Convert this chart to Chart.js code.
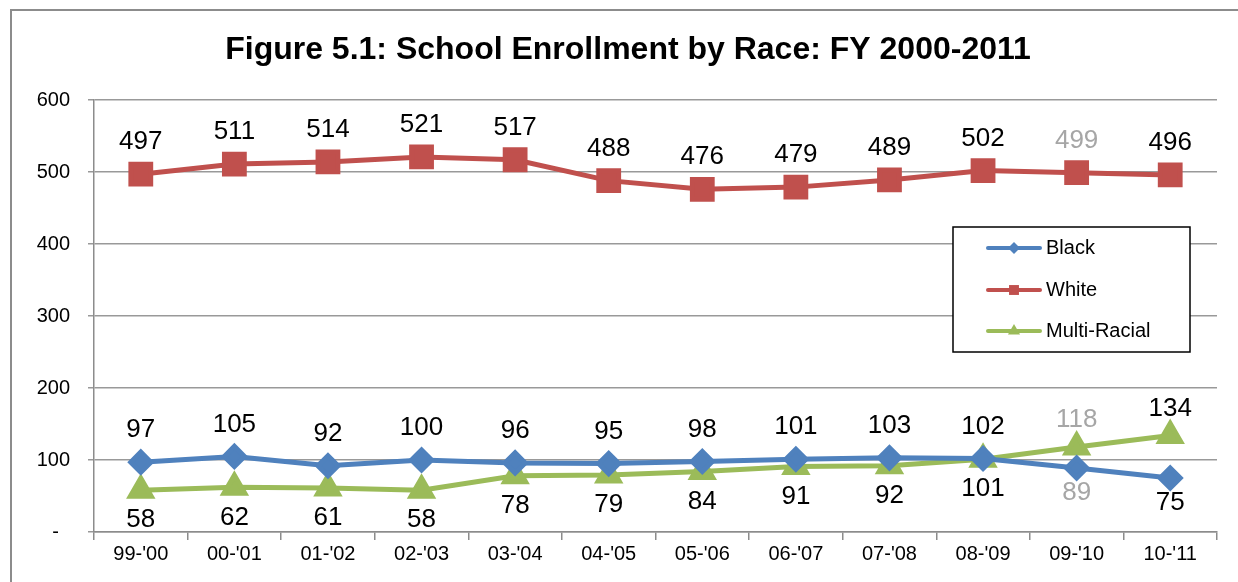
<!DOCTYPE html>
<html>
<head>
<meta charset="utf-8">
<script src="https://cdn.jsdelivr.net/npm/chart.js@4/dist/chart.umd.min.js"></script>
<style>
  html, body { margin: 0; background: #fff; }
  #wrap { width: 1238px; height: 582px; position: relative; }
</style>
</head>
<body>
<div id="wrap"><canvas id="enrollChart" width="1238" height="582"></canvas></div>
<script>
const years = ["99-'00", "00-'01", "01-'02", "02-'03", "03-'04", "04-'05", "05-'06", "06-'07", "07-'08", "08-'09", "09-'10", "10-'11"];
const black = [97, 105, 92, 100, 96, 95, 98, 101, 103, 102, 89, 75];
const white = [497, 511, 514, 521, 517, 488, 476, 479, 489, 502, 499, 496];
const multiRacial = [58, 62, 61, 58, 78, 79, 84, 91, 92, 101, 118, 134];
const yTicks = [0, 100, 200, 300, 400, 500, 600];

const FONT = 'Arial, "Liberation Sans", sans-serif';
const greyedIndex = 10; // 09-'10 labels are shown in grey

// title + outer frame
const framePlugin = {
    id: 'frame',
    beforeDraw(chart) {
        const ctx = chart.ctx;
        ctx.save();
        ctx.fillStyle = '#fff';
        ctx.fillRect(0, 0, chart.width, chart.height);
        ctx.strokeStyle = '#8c8c8c';
        ctx.lineWidth = 2;
        ctx.strokeRect(11, 10, chart.width + 20, chart.height + 20);
        ctx.restore();
    },
    afterDraw(chart) {
        const ctx = chart.ctx;
        ctx.save();
        ctx.fillStyle = '#000';
        ctx.font = 'bold 32px ' + FONT;
        ctx.textAlign = 'center';
        ctx.textBaseline = 'middle';
        ctx.fillText('Figure 5.1: School Enrollment by Race: FY 2000-2011', 628, 50);
        ctx.restore();
    }
};

// value labels above / below the points
const labelPlugin = {
    id: 'valueLabels',
    afterDatasetsDraw(chart) {
        const ctx = chart.ctx;
        ctx.save();
        ctx.font = '26px ' + FONT;
        ctx.textAlign = 'center';
        ctx.textBaseline = 'middle';
        chart.data.datasets.forEach((ds, di) => {
            const meta = chart.getDatasetMeta(di);
            meta.data.forEach((pt, i) => {
                const v = ds.data[i];
                let above = true;
                if (di === 0) above = v > multiRacial[i];
                if (di === 2) above = v > black[i];
                ctx.fillStyle = i === greyedIndex ? '#a6a6a6' : '#000';
                const up = di === 2 ? 27 : 32;
                const down = di === 0 ? 25 : 30;
                const y = above ? pt.y - up : pt.y + down;
                ctx.fillText(String(v), pt.x, y);
            });
        });
        ctx.restore();
    }
};

// boxed legend inside the plot
const legendPlugin = {
    id: 'boxLegend',
    afterDraw(chart) {
        const ctx = chart.ctx;
        const bx = 953, by = 227, bw = 237, bh = 125;
        ctx.save();
        ctx.fillStyle = '#fff';
        ctx.fillRect(bx, by, bw, bh);
        ctx.strokeStyle = '#000';
        ctx.lineWidth = 1.5;
        ctx.strokeRect(bx, by, bw, bh);
        ctx.font = '20px ' + FONT;
        ctx.textBaseline = 'middle';
        ctx.textAlign = 'left';
        const rows = [248, 290, 331];
        const sizes = { rectRot: 6, rect: 7, triangle: 7 };
        chart.data.datasets.forEach((ds, i) => {
            const y = rows[i];
            ctx.strokeStyle = ds.borderColor;
            ctx.lineWidth = 4;
            ctx.lineCap = 'round';
            ctx.beginPath();
            ctx.moveTo(988, y);
            ctx.lineTo(1040, y);
            ctx.stroke();
            ctx.fillStyle = ds.borderColor;
            Chart.helpers.drawPoint(ctx, {
                pointStyle: ds.pointStyle,
                radius: sizes[ds.pointStyle],
                borderWidth: 0
            }, 1014, y);
            ctx.fillStyle = '#000';
            ctx.fillText(ds.label, 1046, y);
        });
        ctx.restore();
    }
};

new Chart(document.getElementById('enrollChart'), {
    type: 'line',
    data: {
        labels: years,
        datasets: [
            { label: 'Black', data: black, borderColor: '#4f81bd', backgroundColor: '#4f81bd', pointStyle: 'rectRot', pointRadius: 10, borderWidth: 5 },
            { label: 'White', data: white, borderColor: '#c0504d', backgroundColor: '#c0504d', pointStyle: 'rect', pointRadius: 14, borderWidth: 5 },
            { label: 'Multi-Racial', data: multiRacial, borderColor: '#9bbb59', backgroundColor: '#9bbb59', pointStyle: 'triangle', pointRadius: 12, borderWidth: 5 }
        ]
    },
    options: {
        responsive: false,
        devicePixelRatio: 1,
        animation: false,
        layout: { padding: { top: 100, right: 21, left: 0, bottom: 0 } },
        elements: { line: { tension: 0 }, point: { borderWidth: 0, hoverRadius: 10 } },
        plugins: { legend: { display: false }, title: { display: false }, tooltip: { enabled: false } },
        scales: {
            x: {
                offset: true,
                afterFit: s => { s.height = 50; },
                grid: { offset: true, drawOnChartArea: false, drawTicks: true, tickLength: 8, color: '#8c8c8c', lineWidth: 1.5 },
                border: { color: '#8c8c8c', width: 1.5 },
                ticks: { color: '#000', font: { family: FONT, size: 20 }, padding: 2, maxRotation: 0 }
            },
            y: {
                min: 0,
                max: 600,
                afterFit: s => { s.width = 94; },
                afterBuildTicks: s => { s.ticks = yTicks.map(v => ({ value: v })); },
                grid: { color: '#999999', lineWidth: 1.5, tickLength: 6 },
                border: { color: '#8c8c8c', width: 1.5 },
                ticks: {
                    color: '#000',
                    font: { family: FONT, size: 20 },
                    padding: 18,
                    callback: v => v === 0 ? '-  ' : String(v)
                }
            }
        }
    },
    plugins: [framePlugin, labelPlugin, legendPlugin]
});
</script>
</body>
</html>
